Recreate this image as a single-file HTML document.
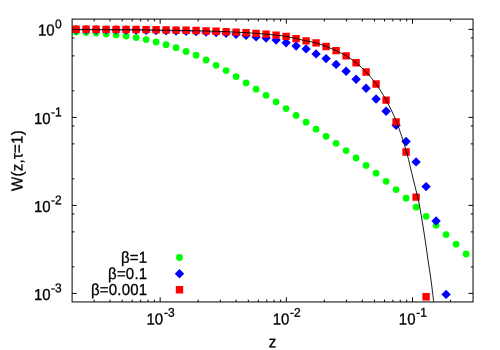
<!DOCTYPE html>
<html><head><meta charset="utf-8"><title>plot</title>
<style>
html,body{margin:0;padding:0;background:#fff;}
body{width:500px;height:350px;overflow:hidden;font-family:"Liberation Sans",sans-serif;}
svg{display:block;position:absolute;left:0;top:0;will-change:transform;}
svg text{font-family:"Liberation Sans",sans-serif;}
</style></head><body>
<svg width="500" height="350" viewBox="0 0 500 350" style="position:absolute;left:0;top:0">
<path d="M94.18 301.95 v-2.3 M94.18 19.1 v2.3 M109.94 301.95 v-2.3 M109.94 19.1 v2.3 M122.17 301.95 v-2.3 M122.17 19.1 v2.3 M132.16 301.95 v-2.3 M132.16 19.1 v2.3 M140.61 301.95 v-2.3 M140.61 19.1 v2.3 M147.92 301.95 v-2.3 M147.92 19.1 v2.3 M154.38 301.95 v-2.3 M154.38 19.1 v2.3 M160.15 301.95 v-4.6 M160.15 19.1 v4.6 M198.13 301.95 v-2.3 M198.13 19.1 v2.3 M220.35 301.95 v-2.3 M220.35 19.1 v2.3 M236.11 301.95 v-2.3 M236.11 19.1 v2.3 M248.34 301.95 v-2.3 M248.34 19.1 v2.3 M258.33 301.95 v-2.3 M258.33 19.1 v2.3 M266.78 301.95 v-2.3 M266.78 19.1 v2.3 M274.09 301.95 v-2.3 M274.09 19.1 v2.3 M280.55 301.95 v-2.3 M280.55 19.1 v2.3 M286.32 301.95 v-4.6 M286.32 19.1 v4.6 M324.3 301.95 v-2.3 M324.3 19.1 v2.3 M346.52 301.95 v-2.3 M346.52 19.1 v2.3 M362.28 301.95 v-2.3 M362.28 19.1 v2.3 M374.51 301.95 v-2.3 M374.51 19.1 v2.3 M384.5 301.95 v-2.3 M384.5 19.1 v2.3 M392.95 301.95 v-2.3 M392.95 19.1 v2.3 M400.26 301.95 v-2.3 M400.26 19.1 v2.3 M406.72 301.95 v-2.3 M406.72 19.1 v2.3 M412.49 301.95 v-4.6 M412.49 19.1 v4.6 M450.47 301.95 v-2.3 M450.47 19.1 v2.3 M72.1 293.4 h4.6 M473.05 293.4 h-4.6 M72.1 266.91 h2.3 M473.05 266.91 h-2.3 M72.1 231.89 h2.3 M473.05 231.89 h-2.3 M72.1 213.93 h2.3 M473.05 213.93 h-2.3 M72.1 205.4 h4.6 M473.05 205.4 h-4.6 M72.1 178.91 h2.3 M473.05 178.91 h-2.3 M72.1 143.89 h2.3 M473.05 143.89 h-2.3 M72.1 125.93 h2.3 M473.05 125.93 h-2.3 M72.1 117.4 h4.6 M473.05 117.4 h-4.6 M72.1 90.91 h2.3 M473.05 90.91 h-2.3 M72.1 55.89 h2.3 M473.05 55.89 h-2.3 M72.1 37.93 h2.3 M473.05 37.93 h-2.3 M72.1 29.4 h4.6 M473.05 29.4 h-4.6" stroke="#000" stroke-width="1" fill="none"/>
<g fill="#00ff00"><circle cx="76.1" cy="32.1" r="3.4"/><circle cx="86.1" cy="32.6" r="3.4"/><circle cx="96.1" cy="33.1" r="3.4"/><circle cx="106.1" cy="33.9" r="3.4"/><circle cx="116.1" cy="34.9" r="3.4"/><circle cx="126.1" cy="36.1" r="3.4"/><circle cx="136.1" cy="37.6" r="3.4"/><circle cx="146.1" cy="39.6" r="3.4"/><circle cx="156.1" cy="41.9" r="3.4"/><circle cx="166.1" cy="44.7" r="3.4"/><circle cx="176.1" cy="47.7" r="3.4"/><circle cx="186.1" cy="51.5" r="3.4"/><circle cx="196.1" cy="55.2" r="3.4"/><circle cx="206.1" cy="60" r="3.4"/><circle cx="216.1" cy="65.3" r="3.4"/><circle cx="226.1" cy="70.6" r="3.4"/><circle cx="236.1" cy="76.6" r="3.4"/><circle cx="246.1" cy="82.9" r="3.4"/><circle cx="256.1" cy="89.2" r="3.4"/><circle cx="266.1" cy="95.3" r="3.4"/><circle cx="276.1" cy="101.8" r="3.4"/><circle cx="286.1" cy="108.6" r="3.4"/><circle cx="296.1" cy="115.4" r="3.4"/><circle cx="306.1" cy="122.2" r="3.4"/><circle cx="316.1" cy="129.2" r="3.4"/><circle cx="326.1" cy="136.3" r="3.4"/><circle cx="336.1" cy="143.3" r="3.4"/><circle cx="346.1" cy="150.6" r="3.4"/><circle cx="356.1" cy="157.9" r="3.4"/><circle cx="366.1" cy="165.4" r="3.4"/><circle cx="376.1" cy="173.2" r="3.4"/><circle cx="386.1" cy="181.3" r="3.4"/><circle cx="396.1" cy="189.6" r="3.4"/><circle cx="406.1" cy="198.2" r="3.4"/><circle cx="416.1" cy="207.2" r="3.4"/><circle cx="426.1" cy="216.3" r="3.4"/><circle cx="436.1" cy="225.3" r="3.4"/><circle cx="446.1" cy="234.6" r="3.4"/><circle cx="456.1" cy="244.2" r="3.4"/><circle cx="466.1" cy="254" r="3.4"/><circle cx="179.5" cy="257.5" r="3.4"/></g>
<clipPath id="cp"><rect x="72.1" y="19.1" width="400.95" height="282.85"/></clipPath>
<path fill="#0000ff" clip-path="url(#cp)" d="M76.1 24.95 l4.7 4.7 l-4.7 4.7 l-4.7 -4.7 z M86.1 25 l4.7 4.7 l-4.7 4.7 l-4.7 -4.7 z M96.1 25.06 l4.7 4.7 l-4.7 4.7 l-4.7 -4.7 z M106.1 25.13 l4.7 4.7 l-4.7 4.7 l-4.7 -4.7 z M116.1 25.21 l4.7 4.7 l-4.7 4.7 l-4.7 -4.7 z M126.1 25.32 l4.7 4.7 l-4.7 4.7 l-4.7 -4.7 z M136.1 25.44 l4.7 4.7 l-4.7 4.7 l-4.7 -4.7 z M146.1 25.59 l4.7 4.7 l-4.7 4.7 l-4.7 -4.7 z M156.1 25.76 l4.7 4.7 l-4.7 4.7 l-4.7 -4.7 z M166.1 25.98 l4.7 4.7 l-4.7 4.7 l-4.7 -4.7 z M176.1 26.23 l4.7 4.7 l-4.7 4.7 l-4.7 -4.7 z M186.1 26.54 l4.7 4.7 l-4.7 4.7 l-4.7 -4.7 z M196.1 26.91 l4.7 4.7 l-4.7 4.7 l-4.7 -4.7 z M206.1 27.35 l4.7 4.7 l-4.7 4.7 l-4.7 -4.7 z M216.1 27.8 l4.7 4.7 l-4.7 4.7 l-4.7 -4.7 z M226.1 28.6 l4.7 4.7 l-4.7 4.7 l-4.7 -4.7 z M236.1 29.5 l4.7 4.7 l-4.7 4.7 l-4.7 -4.7 z M246.1 30.7 l4.7 4.7 l-4.7 4.7 l-4.7 -4.7 z M256.1 32.2 l4.7 4.7 l-4.7 4.7 l-4.7 -4.7 z M266.1 33.4 l4.7 4.7 l-4.7 4.7 l-4.7 -4.7 z M276.1 35.4 l4.7 4.7 l-4.7 4.7 l-4.7 -4.7 z M286.1 38 l4.7 4.7 l-4.7 4.7 l-4.7 -4.7 z M296.1 41.3 l4.7 4.7 l-4.7 4.7 l-4.7 -4.7 z M306.1 44.2 l4.7 4.7 l-4.7 4.7 l-4.7 -4.7 z M316.1 49.2 l4.7 4.7 l-4.7 4.7 l-4.7 -4.7 z M326.1 53.9 l4.7 4.7 l-4.7 4.7 l-4.7 -4.7 z M336.1 59.7 l4.7 4.7 l-4.7 4.7 l-4.7 -4.7 z M346.1 66.5 l4.7 4.7 l-4.7 4.7 l-4.7 -4.7 z M356.1 74.6 l4.7 4.7 l-4.7 4.7 l-4.7 -4.7 z M366.1 83.6 l4.7 4.7 l-4.7 4.7 l-4.7 -4.7 z M376.1 94.3 l4.7 4.7 l-4.7 4.7 l-4.7 -4.7 z M386.1 106.5 l4.7 4.7 l-4.7 4.7 l-4.7 -4.7 z M396.1 120.5 l4.7 4.7 l-4.7 4.7 l-4.7 -4.7 z M406.1 136.8 l4.7 4.7 l-4.7 4.7 l-4.7 -4.7 z M416.1 157.2 l4.7 4.7 l-4.7 4.7 l-4.7 -4.7 z M426.1 181.9 l4.7 4.7 l-4.7 4.7 l-4.7 -4.7 z M436.1 216.3 l4.7 4.7 l-4.7 4.7 l-4.7 -4.7 z M446.1 289.7 l4.7 4.7 l-4.7 4.7 l-4.7 -4.7 z M179.5 269 l4.7 4.7 l-4.7 4.7 l-4.7 -4.7 z"/>
<path fill="#ff0000" d="M72.4 25.55h7.4v7.4h-7.4z M82.4 25.58h7.4v7.4h-7.4z M92.4 25.61h7.4v7.4h-7.4z M102.4 25.66h7.4v7.4h-7.4z M112.4 25.71h7.4v7.4h-7.4z M122.4 25.77h7.4v7.4h-7.4z M132.4 25.84h7.4v7.4h-7.4z M142.4 25.93h7.4v7.4h-7.4z M152.4 26.04h7.4v7.4h-7.4z M162.4 26.27h7.4v7.4h-7.4z M172.4 26.42h7.4v7.4h-7.4z M182.4 26.6h7.4v7.4h-7.4z M192.4 26.83h7.4v7.4h-7.4z M202.4 27.29h7.4v7.4h-7.4z M212.4 27.61h7.4v7.4h-7.4z M222.4 27.99h7.4v7.4h-7.4z M232.4 28.45h7.4v7.4h-7.4z M242.4 29h7.4v7.4h-7.4z M252.4 29.66h7.4v7.4h-7.4z M262.4 30.46h7.4v7.4h-7.4z M272.4 31.41h7.4v7.4h-7.4z M282.4 32.7h7.4v7.4h-7.4z M292.4 34.9h7.4v7.4h-7.4z M302.4 37.2h7.4v7.4h-7.4z M312.4 39.2h7.4v7.4h-7.4z M322.4 42.8h7.4v7.4h-7.4z M332.4 46.9h7.4v7.4h-7.4z M342.4 52.2h7.4v7.4h-7.4z M352.4 59h7.4v7.4h-7.4z M362.4 68.3h7.4v7.4h-7.4z M372.4 80.3h7.4v7.4h-7.4z M382.4 96.4h7.4v7.4h-7.4z M392.4 118.2h7.4v7.4h-7.4z M402.4 148.3h7.4v7.4h-7.4z M412.4 193.4h7.4v7.4h-7.4z M422.4 293.1h7.4v7.4h-7.4z M175.8 286.1h7.4v7.4h-7.4z"/>
<path d="M72.6 29.55 C74.85 29.55 82.18 29.57 86.1 29.58 C90.02 29.59 92.77 29.6 96.1 29.61 C99.43 29.63 102.77 29.64 106.1 29.66 C109.43 29.67 112.77 29.69 116.1 29.71 C119.43 29.73 122.77 29.75 126.1 29.77 C129.43 29.79 132.77 29.82 136.1 29.84 C139.43 29.87 142.77 29.9 146.1 29.93 C149.43 29.96 152.77 30 156.1 30.04 C159.43 30.08 162.77 30.12 166.1 30.17 C169.43 30.21 172.77 30.26 176.1 30.32 C179.43 30.38 182.77 30.44 186.1 30.5 C189.43 30.57 192.77 30.64 196.1 30.73 C199.43 30.81 202.77 30.89 206.1 30.99 C209.43 31.09 212.77 31.19 216.1 31.31 C219.43 31.43 222.77 31.55 226.1 31.69 C229.43 31.83 232.77 31.98 236.1 32.15 C239.43 32.32 242.77 32.5 246.1 32.7 C249.43 32.9 252.77 33.12 256.1 33.36 C259.43 33.61 262.77 33.87 266.1 34.16 C269.43 34.45 272.77 34.74 276.1 35.11 C279.43 35.48 282.77 35.82 286.1 36.4 C289.43 36.98 292.77 37.85 296.1 38.6 C299.43 39.35 302.77 40.18 306.1 40.9 C309.43 41.62 312.77 41.97 316.1 42.9 C319.43 43.83 322.77 45.22 326.1 46.5 C329.43 47.78 332.77 49.03 336.1 50.6 C339.43 52.17 342.77 53.88 346.1 55.9 C349.43 57.92 352.77 60.02 356.1 62.7 C359.43 65.38 362.77 68.45 366.1 72 C369.43 75.55 372.77 79.32 376.1 84 C379.43 88.68 382.69 93.78 386.1 100.1 C389.51 106.42 393.15 113.27 396.55 121.9 C399.95 130.53 403.69 142.22 406.5 151.9 C409.31 161.58 411.42 171.98 413.4 180 C415.38 188.02 416.97 193.33 418.4 200 C419.83 206.67 420.87 213.33 422 220 C423.13 226.67 424.2 233.33 425.2 240 C426.2 246.67 427.03 253.33 428 260 C428.97 266.67 430.05 273 431 280 C431.95 287 433.25 298.33 433.7 302" stroke="#000" stroke-width="0.9" fill="none"/>
<rect x="72.1" y="19.1" width="400.95" height="282.85" fill="none" stroke="#000" stroke-width="1"/>
<g font-family="Liberation Sans, sans-serif" font-size="15" fill="#000" stroke="#000" stroke-width="0.3"><text transform="translate(61.6 35.4) scale(1 1.06) rotate(0.03)" text-anchor="end">10<tspan font-size="12" dx="0.3" dy="-6.79">0</tspan></text>
<text transform="translate(61.6 124) scale(1 1.06) rotate(0.03)" text-anchor="end">10<tspan font-size="12" dx="0.3" dy="-7.36">-1</tspan></text>
<text transform="translate(61.6 212) scale(1 1.06) rotate(0.03)" text-anchor="end">10<tspan font-size="12" dx="0.3" dy="-7.36">-2</tspan></text>
<text transform="translate(61.6 300) scale(1 1.06) rotate(0.03)" text-anchor="end">10<tspan font-size="12" dx="0.3" dy="-7.36">-3</tspan></text>
<text transform="translate(160.55 324.5) scale(1 1.06) rotate(0.03)" text-anchor="middle">10<tspan font-size="12" dx="0.8" dy="-7.36">-3</tspan></text>
<text transform="translate(286.72 324.5) scale(1 1.06) rotate(0.03)" text-anchor="middle">10<tspan font-size="12" dx="0.8" dy="-7.36">-2</tspan></text>
<text transform="translate(412.89 324.5) scale(1 1.06) rotate(0.03)" text-anchor="middle">10<tspan font-size="12" dx="0.8" dy="-7.36">-1</tspan></text>
<text letter-spacing="0" transform="translate(272.6 347.2)  scale(1 1.06) rotate(0.03)" text-anchor="middle">z</text>
<text letter-spacing="0.2" transform="translate(147.3 262.8)  scale(1 1.06) rotate(0.03)" text-anchor="end">&#946;=1</text>
<text letter-spacing="0.2" transform="translate(147.3 278.9)  scale(1 1.06) rotate(0.03)" text-anchor="end">&#946;=0.1</text>
<text letter-spacing="0.2" transform="translate(147.3 295)  scale(1 1.06) rotate(0.03)" text-anchor="end">&#946;=0.001</text>
<text letter-spacing="0.25" transform="translate(22.4 160.5) rotate(-90) scale(1 1.06) rotate(0.03)" text-anchor="middle">W(z,&#964;=1)</text></g>
</svg>
</body></html>
